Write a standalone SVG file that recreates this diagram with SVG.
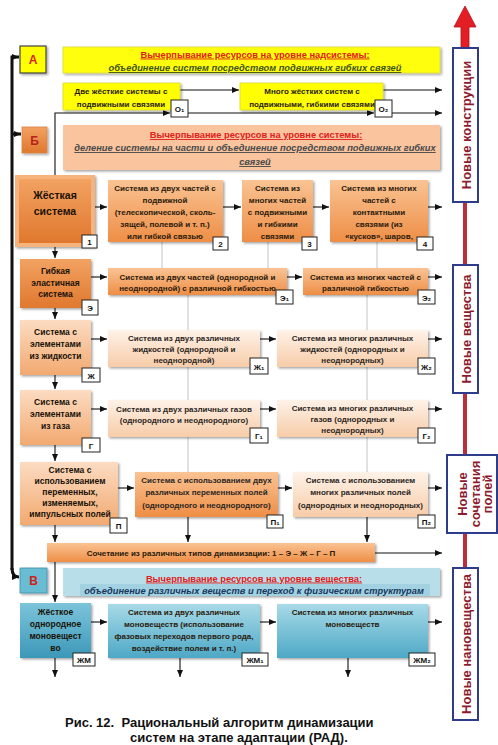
<svg xmlns="http://www.w3.org/2000/svg" width="498" height="745" viewBox="0 0 498 745">
<defs>
<marker id="ar" markerUnits="userSpaceOnUse" markerWidth="8" markerHeight="6" refX="7" refY="3" orient="auto"><path d="M0,0 L7,3 L0,6 z" fill="#111"/></marker>
<linearGradient id="gDark" x1="0" y1="0" x2="0" y2="1"><stop offset="0" stop-color="#F2A262"/><stop offset="1" stop-color="#E0782E"/></linearGradient>
<linearGradient id="gOr" x1="0" y1="0" x2="0" y2="1"><stop offset="0" stop-color="#FAC393"/><stop offset="1" stop-color="#EE8E46"/></linearGradient>
<linearGradient id="gPeach" x1="0" y1="0" x2="0" y2="1"><stop offset="0" stop-color="#FCDCC2"/><stop offset="1" stop-color="#F2A970"/></linearGradient>
<linearGradient id="gLight" x1="0" y1="0" x2="0" y2="1"><stop offset="0" stop-color="#FEF2E8"/><stop offset="1" stop-color="#F7CCA8"/></linearGradient>
<linearGradient id="gBlue" x1="0" y1="0" x2="0" y2="1"><stop offset="0" stop-color="#A8DAE8"/><stop offset="1" stop-color="#4DA8C6"/></linearGradient>
<linearGradient id="gBlueD" x1="0" y1="0" x2="0" y2="1"><stop offset="0" stop-color="#7CC4DA"/><stop offset="1" stop-color="#3C98B8"/></linearGradient>
<filter id="sh" x="-10%" y="-10%" width="130%" height="140%"><feDropShadow dx="1.5" dy="1.5" stdDeviation="1" flood-color="#000" flood-opacity="0.35"/></filter>
</defs>
<style>
text{font-family:"Liberation Sans",Arial,sans-serif}
.t{font-size:8px;fill:#2a1a0c;text-anchor:middle;font-weight:bold}
.n{fill:#2b2622}
.lt{font-size:8.5px;font-weight:bold;fill:#1a1208;text-anchor:middle}
.box{filter:url(#sh)}
.lab rect{fill:#fff;stroke:#222;stroke-width:1}
.lab text{font-size:8px;font-weight:bold;fill:#111;text-anchor:middle}
.c{stroke:#111;stroke-width:1.1;fill:none;marker-end:url(#ar)}
.g{stroke:#C4C4C4;stroke-width:1;fill:none}
.h1{font-size:9.3px;font-weight:bold;fill:#E0201B;text-decoration:underline;text-anchor:middle}
.h2{font-size:9.3px;font-weight:bold;font-style:italic;text-decoration:underline;text-anchor:middle}
.vt{font-size:13px;font-weight:bold;fill:#8E1B2E;text-anchor:middle}
.vb{fill:#fff;stroke:#2F3C8C;stroke-width:2}
.rl{stroke:#B8303C;stroke-width:4}
</style>
<rect width="498" height="745" fill="#fff"/>

<g id="gray-lines">
<path class="g" d="M162,242 V268 M268,242 V268 M377,242 V268 M188,295 V472 M367,295 V472"/>
</g>

<g id="connectors">
<path d="M12,570 V57 H19" stroke="#111" stroke-width="3" fill="none" marker-end="url(#ar)"/>
<path d="M12,134 H21" stroke="#111" stroke-width="3" fill="none" marker-end="url(#ar)"/>
<path d="M12,568 Q12,577 19,577" stroke="#111" stroke-width="3" fill="none" marker-end="url(#ar)"/>
<path class="c" d="M180,90 H239"/>
<path class="c" d="M383,90 H442"/>
<path class="c" d="M55,176 V113 H170"/>
<path class="c" d="M188,113 H374"/>
<path class="c" d="M392,113 H442"/>
<path class="c" d="M95,207 H107"/>
<path class="c" d="M223,207 H241"/>
<path class="c" d="M313,207 H329"/>
<path class="c" d="M428,207 H442"/>
<path class="c" d="M91,277 H107"/>
<path class="c" d="M287,277 H302"/>
<path class="c" d="M428,277 H442"/>
<path class="c" d="M91,339 H107"/>
<path class="c" d="M260,339 H276"/>
<path class="c" d="M428,339 H442"/>
<path class="c" d="M91,409 H107"/>
<path class="c" d="M260,409 H276"/>
<path class="c" d="M428,409 H442"/>
<path class="c" d="M118,488 H134"/>
<path class="c" d="M278,488 H292"/>
<path class="c" d="M428,488 H442"/>
<path class="c" d="M375,553 H442"/>
<path class="c" d="M91,622 H107"/>
<path class="c" d="M260,622 H276"/>
<path class="c" d="M428,622 H442"/>
<path class="c" d="M55,247 V258"/>
<path class="c" d="M55,308 V319"/>
<path class="c" d="M55,375 V389"/>
<path class="c" d="M55,445 V461"/>
<path class="c" d="M55,525 V542"/>
<path class="c" d="M188,517 V542"/>
<path class="c" d="M367,517 V542"/>
<path class="c" d="M55,562 V602"/>
<path class="c" d="M55,658 V677"/>
<path class="c" d="M180,658 V677"/>
<path class="c" d="M348,658 V677"/>
</g>

<g id="node-A">
<rect class="box" x="20" y="46" width="26" height="27" fill="#FFFF00" stroke="#444" stroke-width="1.2"/>
<text x="33" y="64" font-size="12" font-weight="bold" fill="#E0201B" text-anchor="middle">А</text>
</g>
<g id="banner-A">
<rect class="box" x="63" y="47" width="377" height="26" fill="#FFFF10" stroke="#D8D840" stroke-width="0.8"/>
<text class="h1" x="255" y="57.5">Вычерпывание ресурсов на уровне надсистемы:</text>
<text class="h2" x="255" y="71" fill="#3F5418">объединение систем посредством подвижных гибких связей</text>
</g>
<g id="node-O1">
<rect class="box" x="63" y="83" width="117" height="27" fill="#FFFF00" stroke="#D8D840" stroke-width="0.8"/>
<text class="t" x="121" y="94">Две жёсткие системы с</text>
<text class="t" x="121" y="106.5">подвижными связями</text>
<g class="lab"><rect x="171" y="100" width="17" height="17"/><text x="179.5" y="112">О₁</text></g>
</g>
<g id="node-O2">
<rect class="box" x="240" y="83" width="143" height="27" fill="#FFFF00" stroke="#D8D840" stroke-width="0.8"/>
<text class="t" x="312" y="94">Много жёстких систем с</text>
<text class="t" x="312" y="106.5">подвижными, гибкими связями</text>
<g class="lab"><rect x="375" y="100" width="17" height="17"/><text x="383.5" y="112">О₂</text></g>
</g>

<g id="node-B">
<rect class="box" x="22" y="127" width="25" height="26" fill="url(#gDark)" stroke="#D9844A" stroke-width="0.8"/>
<text x="34.5" y="145" font-size="12" font-weight="bold" fill="#B8231B" text-anchor="middle">Б</text>
</g>
<g id="banner-B">
<rect class="box" x="63" y="125" width="377" height="45" fill="#F9C49E"/>
<text class="h1" x="256" y="138">Вычерпывание ресурсов на уровне системы:</text>
<text class="h2" x="255" y="151" fill="#4A4A4A">деление системы на части и объединение посредством подвижных гибких</text>
<text class="h2" x="255" y="165" fill="#4A4A4A">связей</text>
</g>

<g id="node-1">
<rect class="box" x="15" y="175" width="80" height="72" fill="#F6B37C"/>
<rect x="19" y="179" width="72" height="64" fill="url(#gDark)"/>
<text x="55" y="199" font-size="10.5" font-weight="bold" fill="#1a1208" text-anchor="middle">Жёсткая</text>
<text x="55" y="215" font-size="10.5" font-weight="bold" fill="#1a1208" text-anchor="middle">система</text>
<g class="lab"><rect x="82" y="235" width="15" height="13"/><text x="89.5" y="244.5">1</text></g>
</g>
<g id="node-2">
<rect class="box" x="108" y="180" width="115" height="62" fill="url(#gOr)"/>
<text class="t" x="165" y="191">Система из двух частей с</text>
<text class="t" x="165" y="203">подвижной</text>
<text class="t" x="165" y="215">(телескопической, сколь-</text>
<text class="t" x="165" y="227">зящей, полевой и т. п.)</text>
<text class="t" x="165" y="239">или гибкой связью</text>
<g class="lab"><rect x="213" y="237" width="15" height="13"/><text x="220.5" y="246.5">2</text></g>
</g>
<g id="node-3">
<rect class="box" x="242" y="180" width="71" height="62" fill="url(#gOr)"/>
<text class="t" x="277.5" y="191">Система из</text>
<text class="t" x="277.5" y="203">многих частей</text>
<text class="t" x="277.5" y="215">с подвижными</text>
<text class="t" x="277.5" y="227">и гибкими</text>
<text class="t" x="277.5" y="239">связями</text>
<g class="lab"><rect x="302" y="237" width="15" height="13"/><text x="309.5" y="246.5">3</text></g>
</g>
<g id="node-4">
<rect class="box" x="330" y="180" width="98" height="62" fill="url(#gOr)"/>
<text class="t" x="379" y="191">Система из многих</text>
<text class="t" x="379" y="203">частей с</text>
<text class="t" x="379" y="215">контактными</text>
<text class="t" x="379" y="227">связями (из</text>
<text class="t" x="379" y="239">«кусков», шаров,</text>
<g class="lab"><rect x="417" y="237" width="16" height="13"/><text x="425" y="246.5">4</text></g>
</g>

<g id="node-E">
<rect class="box" x="20" y="259" width="71" height="49" fill="url(#gDark)"/>
<text class="lt" x="55.5" y="273.5">Гибкая</text>
<text class="lt" x="55.5" y="285.5">эластичная</text>
<text class="lt" x="55.5" y="297">система</text>
<g class="lab"><rect x="82" y="300" width="16" height="15"/><text x="90" y="310.5">Э</text></g>
</g>
<g id="node-E1">
<rect class="box" x="108" y="268" width="179" height="27" fill="url(#gOr)"/>
<text class="t" x="197.5" y="280">Система из двух частей (однородной и</text>
<text class="t" x="197.5" y="291">неоднородной) с различной гибкостью</text>
<g class="lab"><rect x="276" y="290" width="17" height="14"/><text x="284.5" y="300.5">Э₁</text></g>
</g>
<g id="node-E2">
<rect class="box" x="303" y="268" width="125" height="27" fill="url(#gOr)"/>
<text class="t" x="365.5" y="280">Система из многих частей с</text>
<text class="t" x="365.5" y="291">различной гибкостью</text>
<g class="lab"><rect x="418" y="290" width="17" height="14"/><text x="426.5" y="300.5">Э₂</text></g>
</g>

<g id="node-Zh">
<rect class="box" x="20" y="320" width="71" height="55" fill="url(#gPeach)"/>
<text class="lt" x="55.5" y="335">Система с</text>
<text class="lt" x="55.5" y="347">элементами</text>
<text class="lt" x="55.5" y="359">из жидкости</text>
<g class="lab"><rect x="82" y="368" width="18" height="14"/><text x="91" y="378.5">Ж</text></g>
</g>
<g id="node-Zh1">
<rect class="box" x="108" y="330" width="152" height="37" fill="url(#gLight)"/>
<text class="t n" x="184" y="341">Система из двух различных</text>
<text class="t n" x="184" y="352">жидкостей (однородной и</text>
<text class="t n" x="184" y="363">неоднородной)</text>
<g class="lab"><rect x="250" y="358" width="18" height="16"/><text x="259" y="369.5">Ж₁</text></g>
</g>
<g id="node-Zh2">
<rect class="box" x="277" y="330" width="151" height="37" fill="url(#gLight)"/>
<text class="t n" x="352.5" y="341">Система из многих различных</text>
<text class="t n" x="352.5" y="352">жидкостей (однородных и</text>
<text class="t n" x="352.5" y="363">неоднородных)</text>
<g class="lab"><rect x="418" y="358" width="17" height="16"/><text x="426.5" y="369.5">Ж₂</text></g>
</g>

<g id="node-G">
<rect class="box" x="20" y="390" width="71" height="55" fill="url(#gPeach)"/>
<text class="lt" x="55.5" y="405">Система с</text>
<text class="lt" x="55.5" y="417">элементами</text>
<text class="lt" x="55.5" y="429">из газа</text>
<g class="lab"><rect x="82" y="438" width="18" height="14"/><text x="91" y="448.5">Г</text></g>
</g>
<g id="node-G1">
<rect class="box" x="108" y="400" width="152" height="37" fill="url(#gLight)"/>
<text class="t n" x="184" y="412">Система из двух различных газов</text>
<text class="t n" x="184" y="423">(однородного и неоднородного)</text>
<g class="lab"><rect x="250" y="428" width="18" height="15"/><text x="259" y="439">Г₁</text></g>
</g>
<g id="node-G2">
<rect class="box" x="277" y="400" width="151" height="37" fill="url(#gLight)"/>
<text class="t n" x="352.5" y="411">Система из многих различных</text>
<text class="t n" x="352.5" y="422">газов (однородных и</text>
<text class="t n" x="352.5" y="433">неоднородных)</text>
<g class="lab"><rect x="418" y="428" width="17" height="15"/><text x="426.5" y="439">Г₂</text></g>
</g>

<g id="node-P">
<rect class="box" x="20" y="462" width="98" height="63" fill="url(#gPeach)"/>
<text class="lt" x="70" y="473" font-size="7.5">Система с</text>
<text class="lt" x="70" y="484" font-size="7.5">использованием</text>
<text class="lt" x="70" y="495" font-size="7.5">переменных,</text>
<text class="lt" x="70" y="506" font-size="7.5">изменяемых,</text>
<text class="lt" x="70" y="517" font-size="7.5">импульсных полей</text>
<g class="lab"><rect x="110" y="518" width="17" height="15"/><text x="118.5" y="529">П</text></g>
</g>
<g id="node-P1">
<rect class="box" x="135" y="472" width="143" height="45" fill="url(#gOr)"/>
<text class="t n" x="206.5" y="483">Система с использованием двух</text>
<text class="t n" x="206.5" y="495">различных переменных полей</text>
<text class="t n" x="206.5" y="507.5" font-size="7.3">(однородного и неоднородного)</text>
<g class="lab"><rect x="267" y="515" width="16" height="13"/><text x="275" y="524.5">П₁</text></g>
</g>
<g id="node-P2">
<rect class="box" x="293" y="472" width="135" height="45" fill="url(#gLight)"/>
<text class="t n" x="360.5" y="483">Система с использованием</text>
<text class="t n" x="360.5" y="495">многих различных полей</text>
<text class="t n" x="360.5" y="507.5" font-size="7.3">(однородных и неоднородных)</text>
<g class="lab"><rect x="418" y="515" width="17" height="13"/><text x="426.5" y="524.5">П₂</text></g>
</g>

<g id="node-combo">
<rect class="box" x="47" y="543" width="328" height="19" fill="url(#gOr)"/>
<text class="t" x="211" y="556">Сочетание из различных типов динамизации: 1 – Э – Ж – Г – П</text>
</g>

<g id="node-V">
<rect class="box" x="20" y="568" width="27" height="25" fill="#69BCD2" stroke="#3A8FA8" stroke-width="0.8"/>
<text x="33.5" y="585" font-size="12" font-weight="bold" fill="#D0201B" text-anchor="middle">В</text>
</g>
<g id="banner-V">
<rect class="box" x="63" y="568" width="377" height="28" fill="#B8DEEA"/>
<rect x="80" y="584" width="350" height="12" fill="#A2D2E2"/>
<text class="h1" x="254" y="581.5">Вычерпывание ресурсов на уровне вещества:</text>
<text class="h2" x="254" y="594" fill="#17375E" style="text-decoration:none">объединение различных веществ и переход к физическим структурам</text>
</g>

<g id="node-ZhM">
<rect class="box" x="20" y="603" width="71" height="55" fill="url(#gBlueD)"/>
<text class="lt" x="55.5" y="615" fill="#0F2533">Жёсткое</text>
<text class="lt" x="55.5" y="627" fill="#0F2533">однородное</text>
<text class="lt" x="55.5" y="639" fill="#0F2533">моновещест</text>
<text class="lt" x="55.5" y="651" fill="#0F2533">во</text>
<g class="lab"><rect x="73" y="653" width="22" height="13"/><text x="84" y="662.5">ЖМ</text></g>
</g>
<g id="node-ZhM1">
<rect class="box" x="108" y="604" width="152" height="54" fill="url(#gBlue)"/>
<text class="t" x="184" y="615" fill="#0F2533">Система из двух различных</text>
<text class="t" x="184" y="627" fill="#0F2533">моновеществ (использование</text>
<text class="t" x="184" y="639" fill="#0F2533">фазовых переходов первого рода,</text>
<text class="t" x="184" y="651" fill="#0F2533">воздействие полем и т. п.)</text>
<g class="lab"><rect x="242" y="653" width="26" height="13"/><text x="255" y="662.5">ЖМ₁</text></g>
</g>
<g id="node-ZhM2">
<rect class="box" x="277" y="604" width="151" height="54" fill="url(#gBlue)"/>
<text class="t" x="352.5" y="615" fill="#0F2533">Система из многих различных</text>
<text class="t" x="352.5" y="627" fill="#0F2533">моновеществ</text>
<g class="lab"><rect x="409" y="653" width="26" height="13"/><text x="422" y="662.5">ЖМ₂</text></g>
</g>

<g id="scale">
<path d="M465,6 L476,27 L469,27 L469,48 L461,48 L461,27 L454,27 Z" fill="#E31E24" stroke="#B0141A" stroke-width="0.8"/>
<line class="rl" x1="465" y1="202" x2="465" y2="265"/>
<line class="rl" x1="465" y1="393" x2="465" y2="455"/>
<line class="rl" x1="465" y1="533" x2="465" y2="568"/>
<g id="lvl-constructions"><rect class="vb" x="453" y="48" width="25" height="154"/><text class="vt" transform="translate(470.5,125) rotate(-90)">Новые конструкции</text></g>
<g id="lvl-substances"><rect class="vb" x="453" y="265" width="25" height="128"/><text class="vt" transform="translate(470.5,329) rotate(-90)">Новые вещества</text></g>
<g id="lvl-fields"><rect class="vb" x="447" y="455" width="50" height="78"/>
<text class="vt" transform="translate(466.5,494) rotate(-90)">Новые</text>
<text class="vt" transform="translate(479.5,494) rotate(-90)">сочетания</text>
<text class="vt" transform="translate(492,494) rotate(-90)">полей</text></g>
<g id="lvl-nano"><rect class="vb" x="453" y="568" width="25" height="152"/><text class="vt" transform="translate(470.5,644) rotate(-90)">Новые нановещества</text></g>
</g>

<g id="caption">
<text x="65" y="727" font-size="13" font-weight="bold" fill="#111" xml:space="preserve">Рис. 12.  Рациональный алгоритм динамизации</text>
<text x="130" y="742" font-size="13" font-weight="bold" fill="#111">систем на этапе адаптации (РАД).</text>
</g>
</svg>
